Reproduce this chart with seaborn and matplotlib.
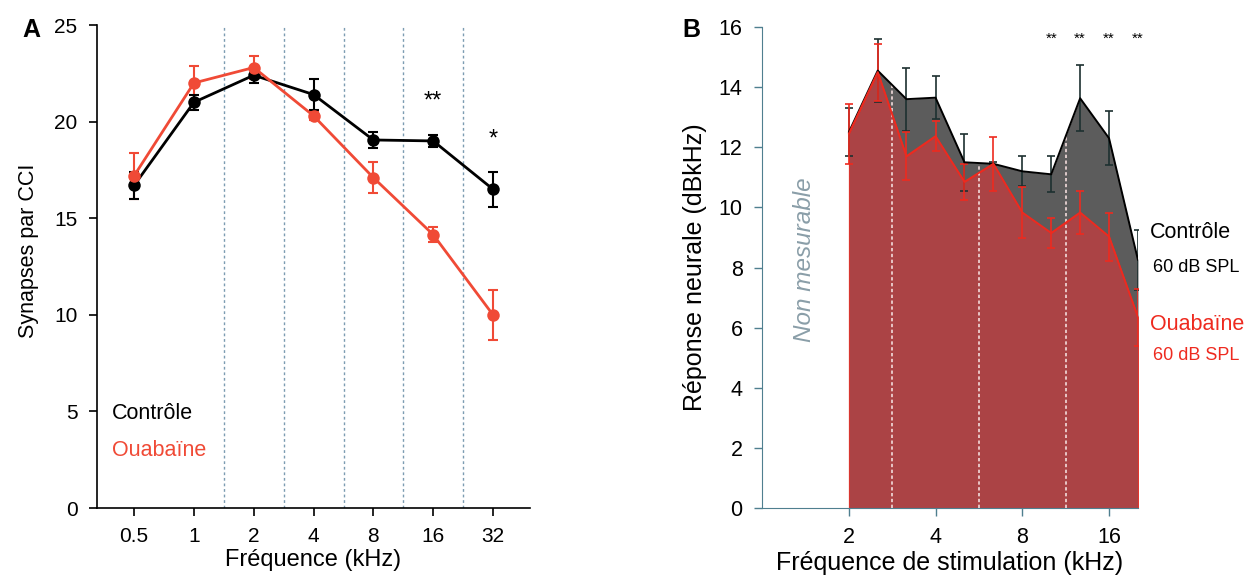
import numpy as np
import pandas as pd
import seaborn as sns
from matplotlib import pyplot as plt

# Panel A : synapses per CCI
freq_a = [0.5, 1, 2, 4, 8, 16, 32]
freq_a_labels = ['0.5', '1', '2', '4', '8', '16', '32']
ctrl_a = [16.7, 21.0, 22.4, 21.4, 19.05, 19.0, 16.5]
ctrl_a_err = [0.7, 0.4, 0.4, 0.8, 0.4, 0.3, 0.9]
ouab_a = [17.2, 22.0, 22.8, 20.3, 17.1, 14.15, 10.0]
ouab_a_err = [1.2, 0.9, 0.6, 0.2, 0.8, 0.4, 1.3]
bounds_a = [1.414, 2.83, 5.66, 11.31, 22.63]
stars_a_x = [16, 32]
stars_a_y = [21.05, 19.05]
stars_a_txt = ['**', '*']

# Panel B : neural response
freq_b = [2.0, 2.52, 3.17, 4.0, 5.04, 6.35, 8.0, 10.08, 12.7, 16.0, 20.16]
ctrl_b = [12.5, 14.55, 13.6, 13.65, 11.5, 11.45, 11.2, 11.1, 13.63, 12.3, 8.25]
ctrl_b_err = [0.8, 1.05, 1.05, 0.72, 0.95, 0.05, 0.5, 0.6, 1.1, 0.9, 1.0]
ouab_b = [12.45, 14.5, 11.7, 12.37, 10.85, 11.45, 9.83, 9.15, 9.83, 9.03, 6.35]
ouab_b_err = [1.0, 0.95, 0.8, 0.5, 0.6, 0.9, 0.85, 0.5, 0.7, 0.8, 0.95]
bounds_b = [2.83, 5.66, 11.31]
stars_b_x = [10.08, 12.7, 16.0, 20.16]

RED_A = '#f04a36'
RED_B = '#ee2a1f'
FILL_RED = '#ab4345'
FILL_GREY = '#5c5c5c'
AXIS_B = '#4f7f8f'

sns.set_style('ticks')
plt.rcParams['font.family'] = ['Liberation Sans', 'DejaVu Sans']
plt.rcParams.update({'text.color': 'black', 'axes.labelcolor': 'black',
                     'xtick.color': 'black', 'ytick.color': 'black',
                     'axes.edgecolor': 'black'})

fig = plt.figure(figsize=(12.46, 5.75), dpi=100)
ax_a = fig.add_axes([0.0779, 0.1165, 0.3475, 0.840])
ax_b = fig.add_axes([0.6116, 0.1165, 0.3017, 0.8365])

# ---------- Panel A ----------
df_a = pd.DataFrame({'freq': freq_a * 2,
                     'val': ctrl_a + ouab_a,
                     'grp': ['Contrôle'] * 7 + ['Ouabaïne'] * 7})
for b in bounds_a:
    ax_a.axvline(b, color='#7c9cb2', ls=(0, (2, 2)), lw=1.0, zorder=0)
ax_a.errorbar(freq_a, ouab_a, yerr=ouab_a_err, fmt='none', ecolor=RED_A,
              elinewidth=1.5, capsize=3.5, capthick=1.5, zorder=2)
ax_a.errorbar(freq_a, ctrl_a, yerr=ctrl_a_err, fmt='none', ecolor='black',
              elinewidth=1.5, capsize=3.5, capthick=1.5, zorder=3)
sns.lineplot(data=df_a, x='freq', y='val', hue='grp',
             palette={'Contrôle': 'black', 'Ouabaïne': RED_A},
             marker='o', markersize=9, markeredgewidth=0, lw=2,
             legend=False, ax=ax_a, zorder=4)
ax_a.set_xscale('log', base=2)
ax_a.set_xlim(0.5 * 2 ** -0.62, 32 * 2 ** 0.62)
ax_a.set_ylim(0, 25)
ax_a.set_xticks(freq_a)
ax_a.set_xticklabels(freq_a_labels)
ax_a.minorticks_off()
ax_a.set_yticks([0, 5, 10, 15, 20, 25])
ax_a.tick_params(labelsize=15, length=6, width=1.2, pad=8)
ax_a.set_xlabel('Fréquence (kHz)', fontsize=17, labelpad=2)
ax_a.set_ylabel('Synapses par CCI', fontsize=15.5)
ax_a.yaxis.set_label_coords(-0.135, 0.532)
for s in ['left', 'bottom']:
    ax_a.spines[s].set_linewidth(1.2)
sns.despine(ax=ax_a)
for x, y, t in zip(stars_a_x, stars_a_y, stars_a_txt):
    ax_a.text(x, y, t, ha='center', va='center', fontsize=17)
ax_a.text(0.035, 4.87, 'Contrôle', color='black', fontsize=15.5,
          va='center', transform=ax_a.get_yaxis_transform())
ax_a.text(0.035, 3.0, 'Ouabaïne', color=RED_A, fontsize=15.5,
          va='center', transform=ax_a.get_yaxis_transform())

# ---------- Panel B ----------
ax_b.fill_between(freq_b, 0, ctrl_b, color=FILL_GREY, lw=0, zorder=1)
ax_b.fill_between(freq_b, 0, ouab_b, facecolor=FILL_RED, edgecolor=RED_B,
                  lw=0.6, zorder=2)
lf = np.log2(freq_b)
for b in bounds_b:
    top = np.interp(np.log2(b), lf, ctrl_b)
    ax_b.plot([b, b], [0, top], color='#f3dcdc', ls=(0, (2, 1.5)), lw=1.2, zorder=3)
df_b = pd.DataFrame({'freq': freq_b * 2,
                     'val': ctrl_b + ouab_b,
                     'grp': ['Contrôle'] * 11 + ['Ouabaïne'] * 11})
ax_b.errorbar(freq_b, ctrl_b, yerr=ctrl_b_err, fmt='none', ecolor='#1d3030',
              elinewidth=1.2, capsize=3, capthick=1.2, zorder=4)
ax_b.errorbar(freq_b, ouab_b, yerr=ouab_b_err, fmt='none', ecolor=RED_B,
              elinewidth=1.2, capsize=3, capthick=1.2, zorder=5)
sns.lineplot(data=df_b, x='freq', y='val', hue='grp',
             palette={'Contrôle': 'black', 'Ouabaïne': RED_B},
             lw=1.4, legend=False, ax=ax_b, zorder=6)
ax_b.set_xscale('log', base=2)
ax_b.set_xlim(1.0, 20.16)
ax_b.set_ylim(0, 16)
ax_b.set_xticks([2, 4, 8, 16])
ax_b.set_xticklabels(['2', '4', '8', '16'])
ax_b.minorticks_off()
ax_b.set_yticks(range(0, 17, 2))
ax_b.tick_params(labelsize=15.5, length=6, width=1.0, pad=8, color=AXIS_B,
                 labelcolor='black')
ax_b.set_xlabel('Fréquence de stimulation (kHz)', fontsize=18, labelpad=2)
ax_b.set_ylabel('Réponse neurale (dBkHz)', fontsize=18, labelpad=8)
for s in ['left', 'bottom']:
    ax_b.spines[s].set_color(AXIS_B)
sns.despine(ax=ax_b)
for x in stars_b_x:
    ax_b.text(x, 15.6, '**', ha='center', va='center', fontsize=11)
ax_b.text(1.40, 8.27, 'Non mesurable', rotation=90, style='italic',
          color='#8a9ea8', fontsize=17.5, ha='center', va='center')

fig.text(0.923, 0.595, 'Contrôle', fontsize=15.5, color='black', va='center')
fig.text(0.925, 0.534, '60 dB SPL', fontsize=13, color='black', va='center')
fig.text(0.923, 0.435, 'Ouabaïne', fontsize=15.5, color=RED_B, va='center')
fig.text(0.925, 0.381, '60 dB SPL', fontsize=13, color=RED_B, va='center')

fig.text(0.018, 0.948, 'A', fontsize=18, fontweight='bold', va='center')
fig.text(0.548, 0.948, 'B', fontsize=18, fontweight='bold', va='center')

fig.savefig('out.png', dpi=100)
